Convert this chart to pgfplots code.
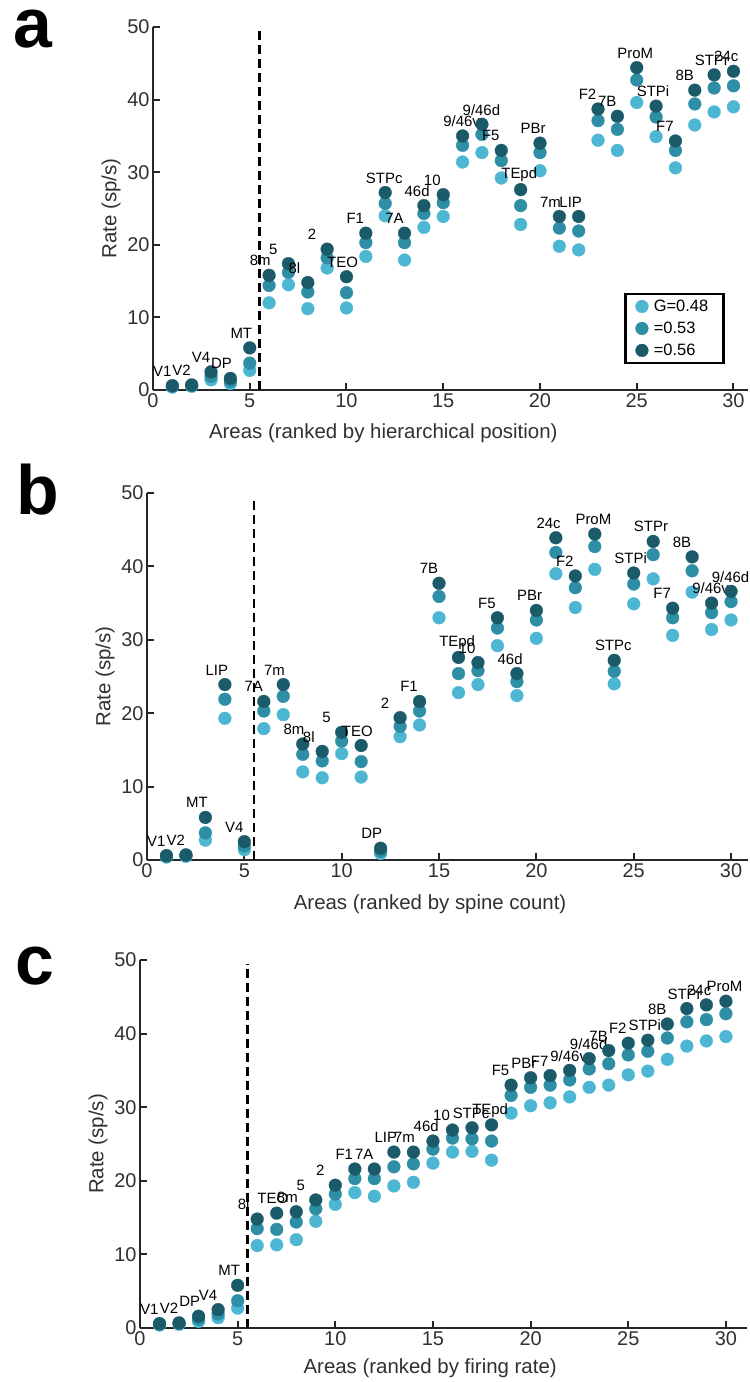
\documentclass[border=0pt]{standalone}
\usepackage{fontspec}
\setmainfont{Liberation Sans}
\usepackage{pgfplots}
\usepackage{pgfplotstable}
\pgfplotsset{compat=1.18}

\definecolor{gA}{HTML}{4DB6D2}
\definecolor{gB}{HTML}{2E8EA5}
\definecolor{gC}{HTML}{1B5A69}
\definecolor{axisgray}{HTML}{262626}
\definecolor{labelgray}{HTML}{303030}

% rates (sp/s) of the 30 areas for G = 0.48, 0.53, 0.56
% ranked by hierarchical position
\pgfplotstableread{
x  name   g48   g53   g56
1  V1     0.4   0.5   0.6
2  V2     0.5   0.6   0.7
3  V4     1.4   1.9   2.5
4  DP     0.9   1.2   1.6
5  MT     2.7   3.7   5.8
6  8m     12.0  14.4  15.8
7  5      14.5  16.2  17.4
8  8l     11.2  13.5  14.8
9  2      16.8  18.2  19.4
10 TEO    11.3  13.4  15.6
11 F1     18.4  20.3  21.6
12 STPc   24.0  25.7  27.2
13 7A     17.9  20.3  21.6
14 46d    22.4  24.3  25.4
15 10     23.9  25.8  26.9
16 9/46v  31.4  33.7  35.0
17 9/46d  32.7  35.2  36.6
18 F5     29.2  31.6  33.0
19 TEpd   22.8  25.4  27.6
20 PBr    30.2  32.7  34.0
21 7m     19.8  22.3  23.9
22 LIP    19.3  21.9  23.9
23 F2     34.4  37.1  38.7
24 7B     33.0  35.9  37.7
25 ProM   39.6  42.7  44.4
26 STPi   34.9  37.6  39.1
27 F7     30.6  33.0  34.3
28 8B     36.5  39.4  41.3
29 STPr   38.3  41.6  43.4
30 24c    39.0  41.9  43.9
}\hierarchy

% ranked by spine count
\pgfplotstableread{
x  name   g48   g53   g56
1  V1     0.4   0.5   0.6
2  V2     0.5   0.6   0.7
3  MT     2.7   3.7   5.8
4  LIP    19.3  21.9  23.9
5  V4     1.4   1.9   2.5
6  7A     17.9  20.3  21.6
7  7m     19.8  22.3  23.9
8  8m     12.0  14.4  15.8
9  8l     11.2  13.5  14.8
10 5      14.5  16.2  17.4
11 TEO    11.3  13.4  15.6
12 DP     0.9   1.2   1.6
13 2      16.8  18.2  19.4
14 F1     18.4  20.3  21.6
15 7B     33.0  35.9  37.7
16 TEpd   22.8  25.4  27.6
17 10     23.9  25.8  26.9
18 F5     29.2  31.6  33.0
19 46d    22.4  24.3  25.4
20 PBr    30.2  32.7  34.0
21 24c    39.0  41.9  43.9
22 F2     34.4  37.1  38.7
23 ProM   39.6  42.7  44.4
24 STPc   24.0  25.7  27.2
25 STPi   34.9  37.6  39.1
26 STPr   38.3  41.6  43.4
27 F7     30.6  33.0  34.3
28 8B     36.5  39.4  41.3
29 9/46v  31.4  33.7  35.0
30 9/46d  32.7  35.2  36.6
}\spines

% ranked by firing rate
\pgfplotstableread{
x  name   g48   g53   g56
1  V1     0.4   0.5   0.6
2  V2     0.5   0.6   0.7
3  DP     0.9   1.2   1.6
4  V4     1.4   1.9   2.5
5  MT     2.7   3.7   5.8
6  8l     11.2  13.5  14.8
7  TEO    11.3  13.4  15.6
8  8m     12.0  14.4  15.8
9  5      14.5  16.2  17.4
10 2      16.8  18.2  19.4
11 F1     18.4  20.3  21.6
12 7A     17.9  20.3  21.6
13 LIP    19.3  21.9  23.9
14 7m     19.8  22.3  23.9
15 46d    22.4  24.3  25.4
16 10     23.9  25.8  26.9
17 STPc   24.0  25.7  27.2
18 TEpd   22.8  25.4  27.6
19 F5     29.2  31.6  33.0
20 PBr    30.2  32.7  34.0
21 F7     30.6  33.0  34.3
22 9/46v  31.4  33.7  35.0
23 9/46d  32.7  35.2  36.6
24 7B     33.0  35.9  37.7
25 F2     34.4  37.1  38.7
26 STPi   34.9  37.6  39.1
27 8B     36.5  39.4  41.3
28 STPr   38.3  41.6  43.4
29 24c    39.0  41.9  43.9
30 ProM   39.6  42.7  44.4
}\firing

\pgfplotsset{
  panel/.style={
    scale only axis,
    anchor=south west,
    xmin=0, ymin=0, ymax=50,
    axis lines=left,
    axis line style={-, line width=2.6bp, draw=axisgray},
    xtick={0,5,...,30},
    ytick={0,10,...,50},
    tick align=inside,
    major tick length=7bp,
    tick style={line width=2bp, draw=axisgray},
    tick label style={font=\fontsize{20}{20}\selectfont, text=labelgray},
    /pgf/number format/assume math mode=true,
    ylabel={Rate (sp/s)},
    label style={font=\fontsize{20.5}{20.5}\selectfont, text=labelgray},
    ylabel style={at={(axis description cs:0,0.5)}, anchor=center, yshift=42bp},
    clip=false,
    legend cell align=left,
  },
  dotA/.style={only marks, mark=*, mark size=6.4bp, mark options={line width=0.3bp, draw=gA, fill=gA}},
  dotB/.style={only marks, mark=*, mark size=6.4bp, mark options={line width=0.3bp, draw=gB, fill=gB}},
  dotC/.style={only marks, mark=*, mark size=6.4bp, mark options={line width=0.3bp, draw=gC, fill=gC},
    point meta=explicit symbolic,
    nodes near coords,
    nodes near coords style={anchor=west, inner sep=0pt, xshift=-19.4bp, yshift=14.6bp,
      font=\fontsize{15}{15}\selectfont, text=black}},
  divider/.style={black, line width=2.4bp, dash pattern=on 9bp off 5bp},
}

\begin{document}
\begin{tikzpicture}
\useasboundingbox (0,0) rectangle (750bp,1382bp);

% panel a: hierarchical position
\begin{axis}[panel, at={(153bp,992bp)}, width=595bp, height=363bp, xmax=30.75,
  xlabel={Areas (ranked by hierarchical position)},
  xlabel style={at={(axis description cs:0.387,0)}, anchor=center, yshift=-43bp},
  legend style={at={(axis description cs:0.792,0.268)}, anchor=north west,
    draw=black, line width=2.6bp, font=\fontsize{16.5}{16.5}\selectfont,
    inner xsep=10bp, inner ysep=1.5bp, row sep=0pt,
    nodes={inner xsep=5.5bp, inner ysep=4.5bp}}]
\addplot[divider, forget plot] coordinates {(5.5,0) (5.5,49.5)};
\addplot[dotA] table[x=x, y=g48] {\hierarchy};
\addlegendentry{G=0.48}
\addplot[dotB] table[x=x, y=g53] {\hierarchy};
\addlegendentry{=0.53}
\addplot[dotC] table[x=x, y=g56, meta=name] {\hierarchy};
\addlegendentry{=0.56}
\end{axis}

% panel b: spine count
\begin{axis}[panel, at={(147bp,522bp)}, width=601bp, height=367bp, xmax=30.87,
  xlabel={Areas (ranked by spine count)},
  xlabel style={at={(axis description cs:0.471,0)}, anchor=center, yshift=-44bp}]
\addplot[divider] coordinates {(5.5,0) (5.5,49.5)};
\addplot[dotA] table[x=x, y=g48] {\spines};
\addplot[dotB] table[x=x, y=g53] {\spines};
\addplot[dotC] table[x=x, y=g56, meta=name] {\spines};
\end{axis}

% panel c: firing rate
\begin{axis}[panel, at={(140bp,54bp)}, width=607bp, height=368bp, xmax=31.08,
  xlabel={Areas (ranked by firing rate)},
  xlabel style={at={(axis description cs:0.478,0)}, anchor=center, yshift=-40bp}]
\addplot[divider] coordinates {(5.5,0) (5.5,49.5)};
\addplot[dotA] table[x=x, y=g48] {\firing};
\addplot[dotB] table[x=x, y=g53] {\firing};
\addplot[dotC] table[x=x, y=g56, meta=name] {\firing};
\end{axis}

% panel letters
\node[anchor=base west, inner sep=0pt, font=\fontsize{70}{70}\bfseries\selectfont] at (13bp,1334bp) {a};
\node[anchor=base west, inner sep=0pt, font=\fontsize{70}{70}\bfseries\selectfont] at (16bp,867bp) {b};
\node[anchor=base west, inner sep=0pt, font=\fontsize{70}{70}\bfseries\selectfont] at (15bp,397bp) {c};
\end{tikzpicture}
\end{document}
